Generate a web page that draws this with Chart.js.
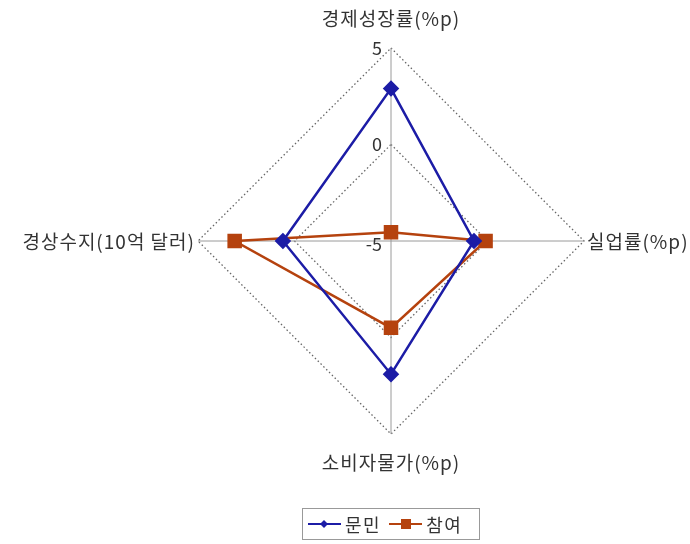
<!DOCTYPE html>
<html>
<head>
<meta charset="utf-8">
<script src="https://cdn.jsdelivr.net/npm/chart.js@4"></script>
<style>
  html, body { margin: 0; padding: 0; background: #fff; }
  #wrap { position: relative; width: 690px; height: 544px; }
  #legend { position: absolute; left: 302px; top: 508px; width: 178px; height: 32px; border: 1px solid #999;
    display: flex; align-items: center; padding-left: 5px;
    font-family: "Noto Sans CJK KR", sans-serif; font-size: 18px; letter-spacing: 1.5px; color: #333; box-sizing: border-box; }
  #legend .item { display: flex; align-items: center; gap: 4px; margin-right: 8px; }
</style>
</head>
<body>
<div id="wrap">
  <canvas id="c" width="690" height="544"></canvas>
  <div id="legend"></div>
</div>
<script>
const categories = ['경제성장률(%p)', '실업률(%p)', '소비자물가(%p)', '경상수지(10억 달러)'];
const seriesNames = ['문민', '참여'];
const munminValues = [2.9, -0.7, 1.9, 0.6];
const chamyeoValues = [-4.55, -0.1, -0.5, 3.1];
const tickLabels = ['-5', '0', '5'];
const colors = ['#1c1ca6', '#b5420e'];
const markers = ['rectRot', 'rect'];

const FONT = '"Noto Sans CJK KR", sans-serif';

const labelPlugin = {
  id: 'customLabels',
  afterDatasetsDraw(chart) {
    const s = chart.scales.r;
    const ctx = chart.ctx;
    ctx.save();
    ctx.fillStyle = '#333';
    ctx.font = '18px ' + FONT;
    ctx.textAlign = 'right';
    ctx.textBaseline = 'middle';
    s.ticks.forEach((t, i) => {
      const d = s.getDistanceFromCenterForValue(t.value);
      const lbl = tickLabels[i] !== undefined ? tickLabels[i] : String(t.value);
      ctx.fillText(lbl, s.xCenter - 9, s.yCenter - d + (i === 0 ? 3 : 0));
    });
    ctx.font = '19px ' + FONT;
    ctx.letterSpacing = '1px';
    const pads = [30, 3, 28, 3];
    categories.forEach((c, i) => {
      const p = s.getPointPosition(i, s.drawingArea + pads[i]);
      if (i === 0 || i === 2) { ctx.textAlign = 'center'; }
      else if (i === 1) { ctx.textAlign = 'left'; }
      else { ctx.textAlign = 'right'; }
      ctx.textBaseline = 'middle';
      ctx.fillText(c, p.x, p.y + 1);
    });
    ctx.restore();
  }
};

const chart = new Chart(document.getElementById('c'), {
  type: 'radar',
  data: {
    labels: categories,
    datasets: [
      { label: seriesNames[0], data: munminValues, borderColor: colors[0], backgroundColor: colors[0],
        pointBackgroundColor: colors[0], pointBorderColor: colors[0], pointStyle: markers[0],
        pointRadius: 6.5, borderWidth: 2.5, fill: false, tension: 0 },
      { label: seriesNames[1], data: chamyeoValues, borderColor: colors[1], backgroundColor: colors[1],
        pointBackgroundColor: colors[1], pointBorderColor: colors[1], pointStyle: markers[1],
        pointRadius: 8.5, borderWidth: 2.5, fill: false, tension: 0 }
    ]
  },
  options: {
    responsive: false,
    animation: false,
    layout: { padding: { left: 198, right: 106, top: 48, bottom: 110 } },
    plugins: { legend: { display: false }, tooltip: { enabled: false } },
    scales: {
      r: {
        min: -5, max: 5,
        ticks: { display: false, stepSize: 5 },
        pointLabels: { display: false },
        grid: { color: '#666', lineWidth: 1.3 },
        border: { dash: [1.5, 2.5] },
        angleLines: { color: '#9a9a9a', lineWidth: 1 }
      }
    }
  },
  plugins: [labelPlugin]
});

const legend = document.getElementById('legend');
seriesNames.forEach((name, i) => {
  const item = document.createElement('div');
  item.className = 'item';
  const marker = i === 0
    ? '<polygon points="16,6 20,10 16,14 12,10" fill="' + colors[i] + '"/>'
    : '<rect x="12" y="5" width="10" height="10" fill="' + colors[i] + '"/>';
  item.innerHTML = '<svg width="33" height="20"><line x1="0" y1="10" x2="33" y2="10" stroke="' + colors[i] +
    '" stroke-width="2"/>' + marker + '</svg><span>' + name + '</span>';
  legend.appendChild(item);
});
</script>
</body>
</html>
